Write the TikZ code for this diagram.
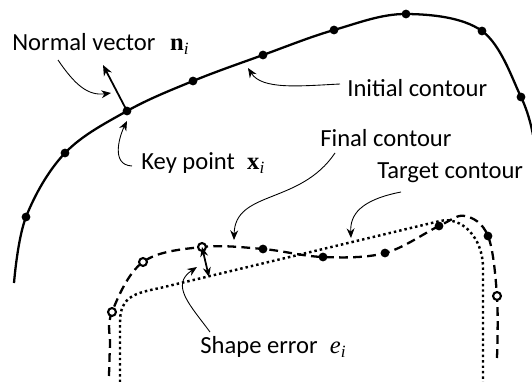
\documentclass[tikz,border=0pt]{standalone}
\usepackage{fontspec}
\setmainfont{Carlito}
\newfontfamily\timesfont{Liberation Serif}
\usetikzlibrary{arrows.meta}

% bold vector / italic scalar with italic subscript
\newcommand{\bvec}[2]{{\timesfont\bfseries #1}\textsubscript{\timesfont\itshape #2}}
\newcommand{\ivec}[2]{{\timesfont\itshape #1}\textsubscript{\timesfont\itshape #2}}

\tikzset{
  lbl/.style={anchor=west, inner sep=0pt, font=\fontsize{14}{16}\selectfont},
  callout/.style={-{Stealth[length=5.5pt,width=4.5pt]}, line width=0.5pt},
  keydot/.style={circle, fill=black, inner sep=0pt, minimum size=5pt},
  opendot/.style={circle, draw=black, fill=white, line width=1.2pt, inner sep=0pt, minimum size=4.5pt},
  initcont/.style={line width=1.3pt},
  finalcont/.style={line width=1.3pt, dash pattern=on 5pt off 3pt},
  targetcont/.style={line width=1.4pt, dash pattern=on 1.4pt off 1.7pt},
}

\begin{document}
\begin{tikzpicture}[x=0.02cm, y=-0.02cm]
  \useasboundingbox (0,0) rectangle (532,382);
  % Initial contour (solid)
  \draw[initcont] plot[smooth, tension=0.6] coordinates {(14,283) (26,217) (65,153) (127,111) (193,81) (263,55) (334,30) (406,14) (482,31) (521,97) (533,135)};
  % Target contour (dotted)
  \draw[targetcont] (120,382) -- (120,322) .. controls (120,296) and (136,293) .. (160,288)
    -- (440,221) .. controls (462,216) and (483,238) .. (483,268) -- (483,382);
  % Final contour (dashed)
  \draw[finalcont] plot[smooth, tension=0.6] coordinates {(109,376) (110,345) (112,312) (143,262) (202,247) (263,249) (323,257) (385,253) (439,226) (465,216) (488,236) (497,296) (497,358)};
  % Key points
  \foreach \pos [count=\k] in {(26,217),(65,153),(127,111),(193,81),(263,55),(334,30),(406,14),(482,31),(521,97)}
    \node[keydot] (ini\k) at \pos {};
  \foreach \pos [count=\k] in {(112,312),(143,262),(202,247)}
    \node[opendot] (fin\k) at \pos {};
  \foreach \pos [count=\k] in {(263,249),(323,257),(385,253),(439,226),(488,236)}
    \node[keydot] (fin\the\numexpr\k+3\relax) at \pos {};
  \node[opendot] (fin9) at (497,296) {};
  % Normal vector and shape error
  \coordinate (ntip) at (103,65);
  \coordinate (errtip) at (209,277);
  \draw[-{Stealth[length=6pt,width=5pt]}, line width=1pt] (ini3.center) -- (ntip);
  \draw[{Stealth[length=5.5pt,width=4.5pt]}-{Stealth[length=5.5pt,width=4.5pt]}, line width=1pt] (fin3.center) -- (errtip);
  % Labels
  \node[lbl] (lblNormal) at (12,44) {Normal vector\hspace{0.6em}\bvec{n}{i}};
  \node[lbl] (lblKey) at (141,163) {Key point\hspace{0.5em}\bvec{x}{i}};
  \node[lbl] (lblInit) at (347,88) {Initial contour};
  \node[lbl] (lblFinal) at (320,138) {Final contour};
  \node[lbl] (lblTarget) at (377,173) {Target contour};
  \node[lbl] (lblErr) at (200,347) {Shape error\hspace{0.5em}\ivec{e}{i}};
  % Callout arrows
  \coordinate (tipNormal) at (111,93);
  \coordinate (tipKey) at (127,121);
  \coordinate (tipInit) at (248,68);
  \coordinate (tipFinal) at (234,240);
  \coordinate (tipTarget) at (351,238);
  \coordinate (tipErr) at (197,267);
  \draw[callout] ([shift={(46,16)}]lblNormal.west) .. controls (75,85) and (88,96) .. (tipNormal);
  \draw[callout] ([shift={(-9,3)}]lblKey.west) .. controls (110,165) and (120,135) .. (tipKey);
  \draw[callout] ([shift={(-7,-4)}]lblInit.west) .. controls (300,86) and (262,90) .. (tipInit);
  \draw[callout] ([shift={(15,15)}]lblFinal.west) .. controls (300,205) and (235,190) .. (tipFinal);
  \draw[callout] ([shift={(24,19)}]lblTarget.west) .. controls (360,200) and (350,215) .. (tipTarget);
  \draw[callout] ([shift={(10,-15)}]lblErr.west) .. controls (190,305) and (170,285) .. (tipErr);
\end{tikzpicture}
\end{document}
